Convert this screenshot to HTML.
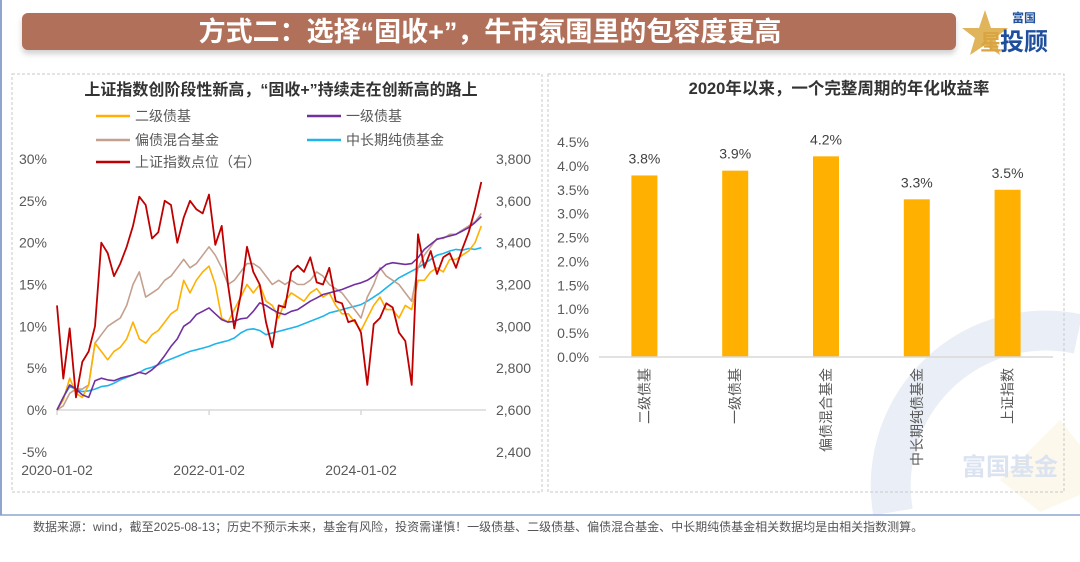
<!DOCTYPE html>
<html><head><meta charset="utf-8">
<style>
html,body{margin:0;padding:0;background:#fff;overflow:hidden;width:1080px;height:562px;}
#wrap{position:relative;width:1080px;height:562px;overflow:hidden;background:#fff;font-family:"Liberation Sans","Noto Sans CJK SC",sans-serif;}
svg{display:block;}
svg text{font-family:"Liberation Sans","Noto Sans CJK SC",sans-serif;}
</style></head>
<body>
<div id="wrap">
<svg id="svg" width="1080" height="562" viewBox="0 0 1080 562">
  <defs>
    <filter id="sh" x="-5%" y="-30%" width="110%" height="180%"><feDropShadow dx="0" dy="4" stdDeviation="3" flood-color="#999" flood-opacity="0.45"/></filter>
  </defs>
  <!-- watermark -->
  <g>
    <path d="M893,512 A155,155 0 0 1 1078,334" fill="none" stroke="#eaeff7" stroke-width="40"/>
    <polygon points="1000,480 1060,420 1080,445 1080,495 1040,512" fill="#fdf8ec"/>
    <text x="1010" y="475" font-size="24" font-weight="bold" fill="#dbe3f0" text-anchor="middle">富国基金</text>
  </g>
  <!-- frame lines -->
  <line x1="1" y1="0" x2="1" y2="515" stroke="#8ea6cf" stroke-width="2"/>
  <line x1="0" y1="515" x2="1080" y2="515" stroke="#8ea6cf" stroke-width="1.5"/>
  <!-- header -->
  <rect x="22" y="13" width="934" height="37" rx="6" fill="#b06f5a" filter="url(#sh)"/>
  <text x="490" y="41" font-size="27" font-weight="bold" fill="#fff" text-anchor="middle">方式二：选择“固收+”，牛市氛围里的包容度更高</text>
  <g>
    <polygon points="985,10 991,28 1008,28 995,38 1000,55 985,45 970,55 975,38 962,28 979,28" fill="#e0b45a"/>
    <text x="980" y="50" font-size="22" font-weight="bold" fill="#d9a441">星</text>
    <text x="1000" y="50" font-size="24" font-weight="bold" fill="#1f4e9c">投顾</text>
    <text x="1012" y="22" font-size="12" font-weight="bold" fill="#1f4e9c">富国</text>
  </g>
  <!-- panels -->
  <rect x="12" y="74" width="530" height="418" fill="none" stroke="#c8c8c8" stroke-dasharray="3,2"/>
  <rect x="548" y="74" width="516" height="418" fill="none" stroke="#c8c8c8" stroke-dasharray="3,2"/>
  <text x="281" y="95" font-size="16" font-weight="bold" fill="#333" text-anchor="middle">上证指数创阶段性新高，“固收+”持续走在创新高的路上</text>
  <text x="839" y="94" font-size="16.5" font-weight="bold" fill="#333" text-anchor="middle">2020年以来，一个完整周期的年化收益率</text>
  <g id="left"></g>
  <g id="right"></g>
  <text x="33" y="531" font-size="12" fill="#555">数据来源：wind，截至2025-08-13；历史不预示未来，基金有风险，投资需谨慎！一级债基、二级债基、偏债混合基金、中长期纯债基金相关数据均是由相关指数测算。</text>
</svg>
</div>
<script>
// ---- Left chart data (monthly, 2020-01 .. 2025-08) ----
const startYear = 2020;
const leftTicks = [-5, 0, 5, 10, 15, 20, 25, 30];
const rightTicks = [2400, 2600, 2800, 3000, 3200, 3400, 3600, 3800];
const dateTicks = ["2020-01-02", "2022-01-02", "2024-01-02"];
const erji = [0,1.2,3.8,2,1.5,3,8,7,6,7,7.5,8.5,10.5,8.5,8,9,9.5,10.5,11.5,12,15.5,14,15.5,16.5,17.2,15,11,10.5,12,13.5,15,14,15,13,12.5,11,13,14,13.5,13,14,14.5,13.5,14,12.5,11.5,11.5,10.5,9.5,11,12.5,13.5,12,12,11,12.5,12,15.5,15.5,16.5,17,16.5,18,18,18.5,19,20,22];
const yiji = [0,1.5,3,2.5,1.8,1.5,3.5,3.8,3.6,3.5,3.8,4,4.2,4.5,4.3,4.8,5.5,6.5,7.6,8.5,10,10.5,11.4,11.8,12.2,11.5,10.8,10.5,10.6,10.9,11,11.8,12.8,12.5,12,11.6,11.4,11.8,12,12.5,13,13.4,13.8,14,14.2,14.4,14.7,15,15.2,15.5,16,16.8,17.4,17.6,17.5,17.4,17.5,18.2,19.2,19.8,20.4,20.6,20.8,21,21.4,21.8,22.4,23.1];
const piannzhai = [0,0.5,2,2.5,2.5,3,8,9,10,10.5,11,12.5,15,16.5,13.5,14,14.5,15.5,16,17,18,17,17.5,18.5,19.5,18.5,17,15,15.5,16.5,17.5,17.5,17,16,15,15.5,15,15.5,15,15,15.5,16.5,16,15,14.5,14,13,12,11,13.5,15,17,16,15.5,15,14,13,17,18.5,19.5,20.5,20.5,21,21,21.5,22,22.5,23.5];
const chunzhai = [0,1.5,2.8,2.5,2.2,2.3,2.5,2.8,2.9,3.2,3.6,3.9,4.2,4.5,4.9,5.1,5.4,5.8,6.1,6.4,6.7,7,7.2,7.4,7.6,7.9,8.1,8.3,8.6,9.2,9.6,9.7,9.5,9,9.2,9.4,9.6,9.8,10,10.3,10.6,10.9,11.2,11.6,11.8,12,12.2,12.4,12.6,13,13.5,14,14.6,15.2,15.8,16.2,16.6,17,17.5,18,18.5,18.7,19,19.2,19.1,19.3,19.2,19.4];
const shIndex = [3100,2750,2990,2660,2830,2880,3000,3400,3350,3240,3300,3380,3480,3620,3580,3420,3450,3600,3580,3400,3520,3600,3560,3540,3630,3390,3480,3200,2990,3150,3380,3260,3200,3020,2900,3100,3090,3260,3290,3260,3330,3210,3200,3280,3120,3110,3020,3030,2970,2720,3010,3040,3110,3090,2970,2930,2720,3440,3280,3360,3250,3330,3350,3280,3370,3450,3560,3690];
const seriesNames = ["二级债基","一级债基","偏债混合基金","中长期纯债基金","上证指数点位（右）"];
const seriesColors = ["#ffb000","#7030a0","#c4a08f","#1fb5ec","#c00000"];

// ---- Right chart data ----
const barCats = ["二级债基","一级债基","偏债混合基金","中长期纯债基金","上证指数"];
const barVals = [3.8, 3.9, 4.2, 3.3, 3.5];
const barTicks = [0,0.5,1,1.5,2,2.5,3,3.5,4,4.5];

const NS = "http://www.w3.org/2000/svg";
function mk(tag, attrs, parent){ const e=document.createElementNS(NS,tag); for(const k in attrs) e.setAttribute(k,attrs[k]); parent.appendChild(e); return e; }

const L = document.getElementById('left');
const X0 = 57, PXYR = 76;
function xMonth(m){ return X0 + m/12*PXYR; }
function xDate(s){ const d=new Date(s+"T00:00:00Z"); const t=(d - new Date(Date.UTC(startYear,0,2)))/(365.25*864e5); return X0 + t*PXYR; }
function yL(v){ return 410 - v*(251/30); }
function yR(p){ return 410 - (p-2600)*(251/1200); }

leftTicks.forEach(v=>{
  const t=mk('text',{x:47,y:yL(v)+5,'font-size':14,fill:'#595959','text-anchor':'end'},L);
  t.textContent = v+'%';
  
  
});
rightTicks.forEach(p=>{
  const t=mk('text',{x:496,y:yR(p)+5,'font-size':14,fill:'#595959'},L);
  t.textContent = p.toLocaleString('en-US');
  
  
});
const ax = mk('line',{x1:X0,y1:yL(0),x2:486,y2:yL(0),stroke:'#d9d9d9','stroke-width':1.5},L);


dateTicks.forEach(s=>{
  const x=xDate(s);
  const tk=mk('line',{x1:x,y1:yL(0),x2:x,y2:yL(0)+5,stroke:'#d9d9d9','stroke-width':1.5},L);
  
  
  const t=mk('text',{x:x,y:475,'font-size':14,fill:'#595959','text-anchor':'middle'},L);
  t.textContent=s;
  
  
});
function drawLine(arr, yf, color, name, w){
  const d = arr.map((v,i)=>(i?'L':'M')+xMonth(i).toFixed(1)+','+yf(v).toFixed(1)).join(' ');
  const p = mk('path',{d:d,fill:'none',stroke:color,'stroke-width':w,'stroke-linejoin':'round'},L);
  
  
}
drawLine(chunzhai, yL, seriesColors[3], 'series-chunzhai', 1.6);
drawLine(piannzhai, yL, seriesColors[2], 'series-pianzhai', 1.6);
drawLine(erji, yL, seriesColors[0], 'series-erji', 1.6);
drawLine(yiji, yL, seriesColors[1], 'series-yiji', 1.6);
drawLine(shIndex, yR, seriesColors[4], 'series-sh-index', 1.8);

const legPos = [[96,116],[307,116],[96,140],[307,140],[96,162]];
seriesNames.forEach((n,i)=>{
  const [lx,ly]=legPos[i];
  const g=mk('g',{},L);
  
  
  mk('line',{x1:lx,y1:ly,x2:lx+34,y2:ly,stroke:seriesColors[i],'stroke-width':2.5},g);
  const t=mk('text',{x:lx+39,y:ly+5,'font-size':14,fill:'#595959'},g);
  t.textContent=n;
});

const R = document.getElementById('right');
function yB(v){ return 357 - v*(215/4.5); }
const bx0=599, bx1=1053, step=(bx1-bx0)/barCats.length;
barTicks.forEach(v=>{
  const t=mk('text',{x:589,y:yB(v)+5,'font-size':14,fill:'#595959','text-anchor':'end'},R);
  t.textContent=v.toFixed(1)+'%';
  
  
});
barCats.forEach((c,i)=>{
  const cx=bx0+step*(i+0.5);
  const b=mk('rect',{x:cx-13,y:yB(barVals[i]),width:26,height:357-yB(barVals[i]),fill:'#ffb000'},R);
  
  
  const v=mk('text',{x:cx,y:yB(barVals[i])-12,'font-size':14,fill:'#404040','text-anchor':'middle'},R);
  v.textContent=barVals[i].toFixed(1)+'%';
  
  
  const t=mk('text',{x:0,y:0,'font-size':14,fill:'#595959','text-anchor':'end',transform:`translate(${cx+5},368) rotate(-90)`},R);
  t.textContent=c;
  
  
});
const bax=mk('line',{x1:bx0,y1:357,x2:bx1,y2:357,stroke:'#d9d9d9','stroke-width':1.5},R);


</script>
</body></html>
